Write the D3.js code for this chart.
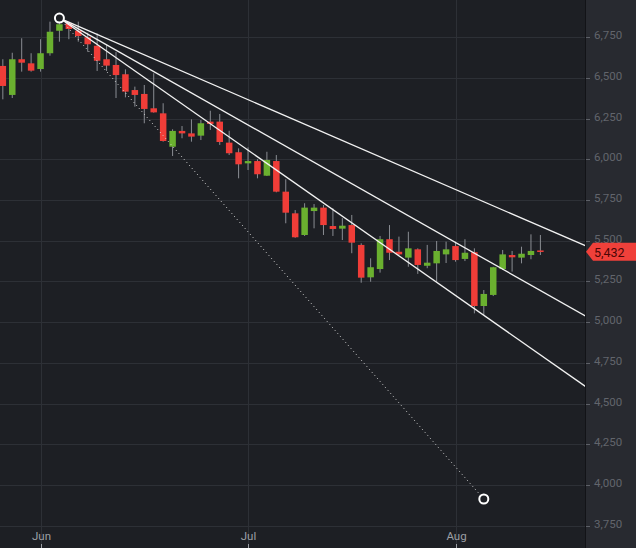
<!DOCTYPE html>
<html>
<head>
<meta charset="utf-8">
<script src="https://cdn.jsdelivr.net/npm/d3@7/dist/d3.min.js"></script>
<style>
  html, body { margin: 0; padding: 0; background: #1d1f24; }
  svg { display: block; }
  text { font-family: Roboto, "Liberation Sans", Arial, sans-serif; }
</style>
</head>
<body>
<svg id="chart" width="636" height="548"></svg>
<script>
// ---- data (one entry per trading session) ----
const opens  = [6573,6395,6614,6589,6554,6651,6789,6835,6789,6749,6697,6614,6579,6522,6425,6401,6313,6282,6077,6174,6159,6145,6231,6231,6102,6043,5975,5989,5899,5989,5801,5668,5535,5682,5703,5590,5574,5596,5474,5275,5326,5509,5432,5396,5447,5346,5361,5416,5467,5388,5429,5099,5167,5326,5412,5396,5412,5440];
const highs  = [6614,6654,6743,6651,6737,6845,6867,6845,6845,6777,6773,6702,6658,6552,6446,6456,6528,6344,6184,6204,6245,6241,6298,6278,6175,6067,6073,6000,6046,6026,5877,5688,5730,5725,5719,5699,5638,5658,5484,5392,5529,5596,5525,5555,5453,5474,5498,5494,5494,5509,5453,5197,5340,5443,5437,5463,5539,5535];
const lows   = [6368,6376,6538,6538,6538,6636,6722,6737,6722,6660,6542,6542,6376,6380,6323,6221,6286,6108,6020,6129,6108,6118,6180,6088,6026,5883,5934,5883,5897,5797,5607,5518,5529,5576,5535,5529,5504,5423,5242,5248,5304,5381,5412,5340,5296,5331,5248,5363,5371,5375,5054,5044,5160,5320,5310,5361,5386,5412];
const closes = [6450,6614,6593,6544,6651,6783,6829,6800,6757,6706,6605,6575,6517,6415,6395,6309,6288,6112,6174,6159,6139,6221,6217,6106,6037,5969,5989,5908,5996,5801,5672,5521,5703,5703,5596,5572,5592,5488,5273,5337,5509,5426,5416,5453,5351,5365,5437,5447,5381,5426,5099,5173,5337,5416,5398,5420,5437,5432];

// month labels and the session index where each month starts
const monthLabels  = ["Jun", "Jul", "Aug"];
const monthIndexes = [4, 26, 48];

// price axis ticks
const priceTicks = [3750, 4000, 4250, 4500, 4750, 5000, 5250, 5500, 5750, 6000, 6250, 6500, 6750, 7000];

// Fibonacci fan: anchor points (session index, price) and levels
const fanStart  = [6, 6867];
const fanEnd    = [51, 3914];
const fanLevels = [0.382, 0.5, 0.618];

// ---- layout ----
const W = 636, H = 548;
const plotRight = 585;
const BG = "#1d1f24", PANEL = "#282a30", GRID = "#2d3036";
const UP = "#6ab02f", DOWN = "#f03d38", WICK = "#8a8d93";

const svg = d3.select("#chart");
const candles = opens.map((o, i) => ({ i, o, h: highs[i], l: lows[i], c: closes[i] }));

const x = d3.scaleLinear().domain([-0.3, 61.73]).range([0, plotRight]);
const y = d3.scaleLinear().domain([3750, 7000]).range([525.7, -3.6]);

svg.append("rect").attr("width", W).attr("height", H).attr("fill", BG);

const defs = svg.append("defs");
defs.append("clipPath").attr("id", "plotClip")
  .append("rect").attr("x", 0).attr("y", 0).attr("width", plotRight).attr("height", H);

const plot = svg.append("g").attr("clip-path", "url(#plotClip)");

// grid
plot.append("g").selectAll("line").data(priceTicks).join("line")
  .attr("x1", 0).attr("x2", plotRight)
  .attr("y1", d => Math.round(y(d)) + 0.5).attr("y2", d => Math.round(y(d)) + 0.5)
  .attr("stroke", GRID).attr("stroke-width", 1);
plot.append("g").selectAll("line").data(monthIndexes).join("line")
  .attr("x1", d => Math.round(x(d)) + 0.5).attr("x2", d => Math.round(x(d)) + 0.5)
  .attr("y1", 0).attr("y2", H)
  .attr("stroke", GRID).attr("stroke-width", 1);

// candles
const bw = 6.5;
const cg = plot.append("g");
cg.selectAll("line.wick").data(candles).join("line").attr("class", "wick")
  .attr("x1", d => x(d.i)).attr("x2", d => x(d.i))
  .attr("y1", d => y(d.h)).attr("y2", d => y(d.l))
  .attr("stroke", WICK).attr("stroke-width", 1);
cg.selectAll("rect.body").data(candles).join("rect").attr("class", "body")
  .attr("x", d => x(d.i) - bw / 2)
  .attr("y", d => y(Math.max(d.o, d.c)))
  .attr("width", bw)
  .attr("height", d => Math.max(1.5, Math.abs(y(d.o) - y(d.c))))
  .attr("fill", d => d.c >= d.o ? UP : DOWN);

// fan
const xEnd = x.domain()[1] + 1;
const range = fanStart[1] - fanEnd[1];
const fanG = plot.append("g");
fanLevels.forEach(lv => {
  const pEnd = fanStart[1] - lv * range;
  const slope = (pEnd - fanStart[1]) / (fanEnd[0] - fanStart[0]);
  const pFar = fanStart[1] + slope * (xEnd - fanStart[0]);
  fanG.append("line")
    .attr("x1", x(fanStart[0])).attr("y1", y(fanStart[1]))
    .attr("x2", x(xEnd)).attr("y2", y(pFar))
    .attr("stroke", "#f2f2f2").attr("stroke-width", 1.3);
});
fanG.append("line")
  .attr("x1", x(fanStart[0])).attr("y1", y(fanStart[1]))
  .attr("x2", x(fanEnd[0])).attr("y2", y(fanEnd[1]))
  .attr("stroke", "#d8d8d8").attr("stroke-width", 1)
  .attr("stroke-dasharray", "1,3");
[fanStart, fanEnd].forEach(p => {
  fanG.append("circle")
    .attr("cx", x(p[0])).attr("cy", y(p[1])).attr("r", 4.5)
    .attr("fill", BG).attr("stroke", "#ffffff").attr("stroke-width", 2);
});

// month axis
const mg = svg.append("g");
monthIndexes.forEach((m, k) => {
  const mx = Math.round(x(m)) + 0.5;
  mg.append("text").attr("x", mx).attr("y", 540)
    .attr("text-anchor", "middle").attr("font-size", 11.5)
    .attr("fill", "#9c9fa5").text(monthLabels[k]);
  mg.append("line").attr("x1", mx).attr("x2", mx).attr("y1", 544).attr("y2", H)
    .attr("stroke", "#9c9fa5").attr("stroke-width", 1);
});

// price axis panel
svg.append("rect").attr("x", plotRight + 1).attr("y", 0)
  .attr("width", W - plotRight - 1).attr("height", H).attr("fill", PANEL);
svg.append("line").attr("x1", plotRight + 0.5).attr("x2", plotRight + 0.5)
  .attr("y1", 0).attr("y2", H).attr("stroke", "#121317").attr("stroke-width", 1);

const fmt = d3.format(",");
const ag = svg.append("g");
ag.selectAll("line").data(priceTicks).join("line")
  .attr("x1", plotRight + 1).attr("x2", plotRight + 5)
  .attr("y1", d => Math.round(y(d)) + 0.5).attr("y2", d => Math.round(y(d)) + 0.5)
  .attr("stroke", "#5d6067");
ag.selectAll("text").data(priceTicks).join("text")
  .attr("x", plotRight + 9).attr("y", d => y(d) - 2)
  .attr("dy", "0.35em").attr("font-size", 11.5)
  .attr("fill", "#62656c").text(d => fmt(d));

// last price tag
const last = closes[closes.length - 1];
const ly = y(last);
svg.append("path")
  .attr("d", `M${plotRight + 1},${ly} L${plotRight + 8},${ly - 9} L${W},${ly - 9} L${W},${ly + 9} L${plotRight + 8},${ly + 9} Z`)
  .attr("fill", "#f0403a");
svg.append("text").attr("x", plotRight + 9).attr("y", ly + 1)
  .attr("dy", "0.35em").attr("font-size", 12.5)
  .attr("fill", "#4a0606").text(fmt(last));
</script>
</body>
</html>
